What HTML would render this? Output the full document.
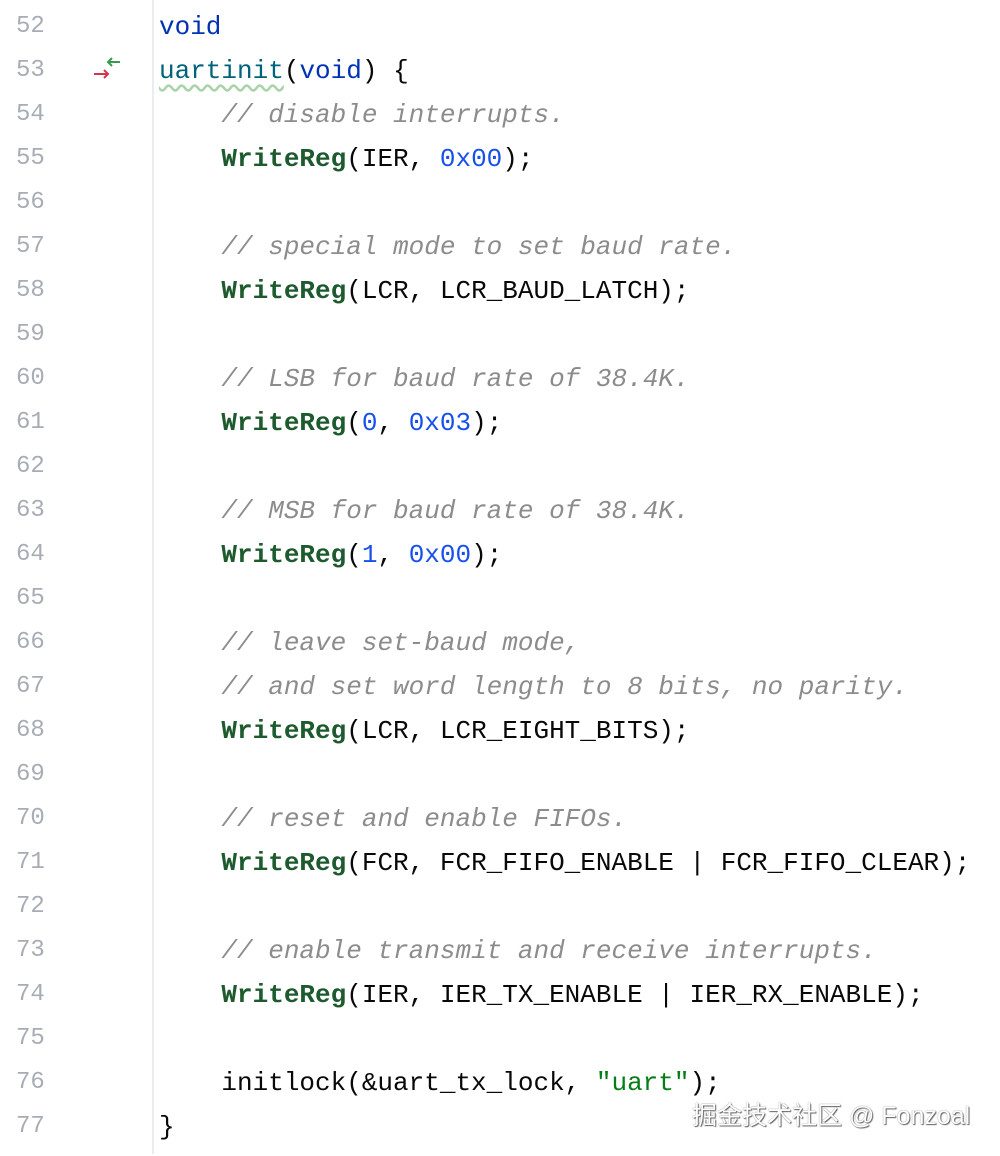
<!DOCTYPE html>
<html><head><meta charset="utf-8"><style>
body{margin:0;width:1000px;height:1154px;background:#fff;position:relative;overflow:hidden;font-family:"Liberation Mono",monospace;font-size:26px}
#w{position:absolute;left:0;top:2px;width:1000px;height:1154px}
.l{position:absolute;left:0;height:44px;line-height:44px;white-space:pre;width:1000px}
.n{position:absolute;left:16px;color:#a8adb5;font-size:24px}
.c{position:absolute;left:159px;color:#080808}
.k{color:#0033b3}.f{color:#00627a}.cm{color:#8c8c8c;font-style:italic}.m{color:#1d5a2e;font-weight:bold}.d{color:#1750eb}.s{color:#067d17}
.g{position:absolute;left:152px;top:0;width:2px;height:1154px;background:#ebecf0}
.wm{position:absolute;left:692px;top:1094px;font-family:"Liberation Sans","Noto Sans CJK SC",sans-serif;font-size:25px;color:#fff;text-shadow:0 0 1px #555,1px 1px 1px #666}
</style></head><body>
<div class="g"></div>
<div id="w">
<svg style="position:absolute;left:90px;top:52px" width="36" height="32"><path d="M30 8H18M22 4l-4 4 4 4" stroke="#3a9a50" stroke-width="2" fill="none"/><path d="M4 20h14M14 16l4 4-4 4" stroke="#d0384a" stroke-width="2" fill="none"/></svg>
<div class="l" style="top:3px"><span class="n">52</span><span class="c"><span class="k">void</span></span></div>
<div class="l" style="top:47px"><span class="n">53</span><span class="c"><span class="f" style="text-decoration:underline wavy #a9d3a9;text-underline-offset:6px">uartinit</span>(<span class="k">void</span>) {</span></div>
<div class="l" style="top:91px"><span class="n">54</span><span class="c">    <span class="cm">// disable interrupts.</span></span></div>
<div class="l" style="top:135px"><span class="n">55</span><span class="c">    <span class="m">WriteReg</span>(IER, <span class="d">0x00</span>);</span></div>
<div class="l" style="top:179px"><span class="n">56</span></div>
<div class="l" style="top:223px"><span class="n">57</span><span class="c">    <span class="cm">// special mode to set baud rate.</span></span></div>
<div class="l" style="top:267px"><span class="n">58</span><span class="c">    <span class="m">WriteReg</span>(LCR, LCR_BAUD_LATCH);</span></div>
<div class="l" style="top:311px"><span class="n">59</span></div>
<div class="l" style="top:355px"><span class="n">60</span><span class="c">    <span class="cm">// LSB for baud rate of 38.4K.</span></span></div>
<div class="l" style="top:399px"><span class="n">61</span><span class="c">    <span class="m">WriteReg</span>(<span class="d">0</span>, <span class="d">0x03</span>);</span></div>
<div class="l" style="top:443px"><span class="n">62</span></div>
<div class="l" style="top:487px"><span class="n">63</span><span class="c">    <span class="cm">// MSB for baud rate of 38.4K.</span></span></div>
<div class="l" style="top:531px"><span class="n">64</span><span class="c">    <span class="m">WriteReg</span>(<span class="d">1</span>, <span class="d">0x00</span>);</span></div>
<div class="l" style="top:575px"><span class="n">65</span></div>
<div class="l" style="top:619px"><span class="n">66</span><span class="c">    <span class="cm">// leave set-baud mode,</span></span></div>
<div class="l" style="top:663px"><span class="n">67</span><span class="c">    <span class="cm">// and set word length to 8 bits, no parity.</span></span></div>
<div class="l" style="top:707px"><span class="n">68</span><span class="c">    <span class="m">WriteReg</span>(LCR, LCR_EIGHT_BITS);</span></div>
<div class="l" style="top:751px"><span class="n">69</span></div>
<div class="l" style="top:795px"><span class="n">70</span><span class="c">    <span class="cm">// reset and enable FIFOs.</span></span></div>
<div class="l" style="top:839px"><span class="n">71</span><span class="c">    <span class="m">WriteReg</span>(FCR, FCR_FIFO_ENABLE | FCR_FIFO_CLEAR);</span></div>
<div class="l" style="top:883px"><span class="n">72</span></div>
<div class="l" style="top:927px"><span class="n">73</span><span class="c">    <span class="cm">// enable transmit and receive interrupts.</span></span></div>
<div class="l" style="top:971px"><span class="n">74</span><span class="c">    <span class="m">WriteReg</span>(IER, IER_TX_ENABLE | IER_RX_ENABLE);</span></div>
<div class="l" style="top:1015px"><span class="n">75</span></div>
<div class="l" style="top:1059px"><span class="n">76</span><span class="c">    initlock(&amp;uart_tx_lock, <span class="s">"uart"</span>);</span></div>
<div class="l" style="top:1103px"><span class="n">77</span><span class="c">}</span></div>
<div class="wm">掘金技术社区 @ Fonzoal</div>
</div>
</body></html>
